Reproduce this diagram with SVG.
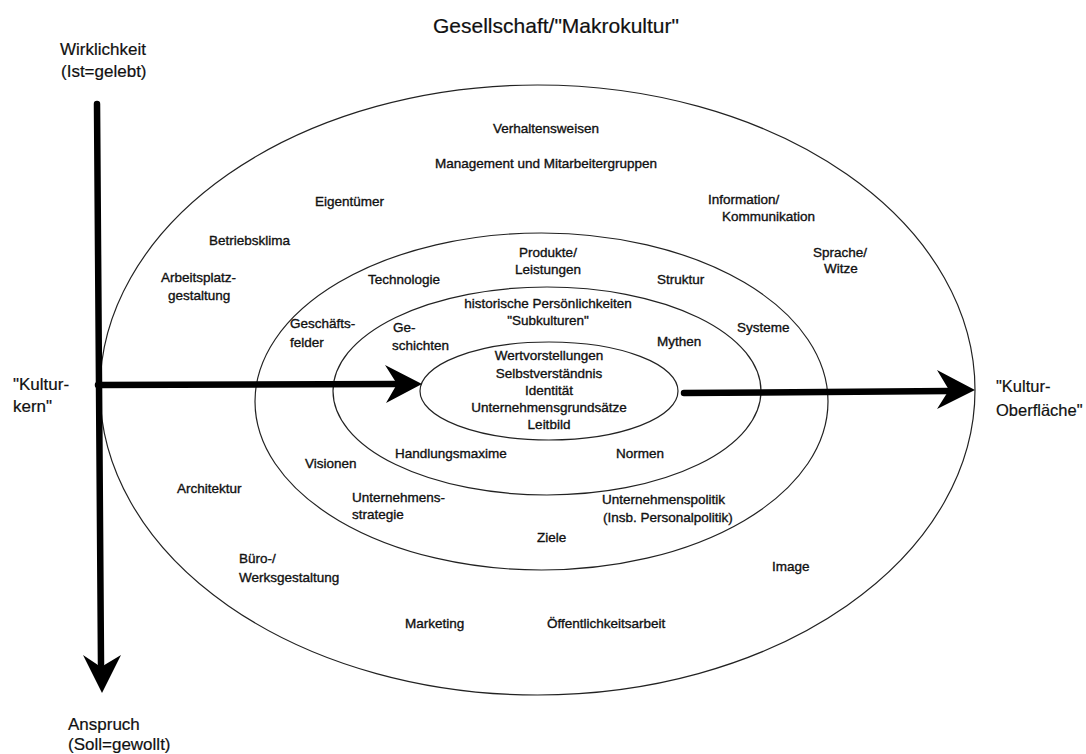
<svg xmlns="http://www.w3.org/2000/svg" width="1086" height="754" viewBox="0 0 1086 754">
<style>
.ring{fill:none;stroke:#222;stroke-width:1.2}
.t{font-family:"Liberation Sans",Arial,sans-serif;font-size:13.5px;fill:#111;stroke:#111;stroke-width:0.35}
.c{text-anchor:middle}
.big{font-family:"Liberation Sans",Arial,sans-serif;font-size:17px;fill:#111;stroke:#111;stroke-width:0.2}
.title{font-family:"Liberation Sans",Arial,sans-serif;font-size:21px;fill:#111;stroke:#111;stroke-width:0.2}
.shaft{stroke:#000;stroke-width:6.5;stroke-linecap:round;fill:none}
.head{fill:#000}
</style>
<rect width="1086" height="754" fill="#fff"/>
<g id="rings">
<ellipse id="ring-outer" class="ring" cx="537.5" cy="390" rx="437.5" ry="305"/>
<ellipse id="ring-middle" class="ring" cx="541.5" cy="401.5" rx="286.5" ry="168.5"/>
<ellipse id="ring-third" class="ring" cx="547" cy="391" rx="214" ry="104"/>
<ellipse id="ring-core" class="ring" cx="549" cy="391" rx="129" ry="49"/>
</g>
<g id="connectors">
<line class="shaft" x1="97" y1="104" x2="101" y2="664"/>
<path class="head" d="M83,655 L102,693 L121,655 L101,667 Z"/>
<line class="shaft" x1="98" y1="385" x2="395" y2="384"/>
<path class="head" d="M385,365 L422,384 L386,403 L397,384 Z"/>
<line class="shaft" x1="684" y1="393" x2="950" y2="391"/>
<path class="head" d="M937,370 L975,390 L937,409 L949,390 Z"/>
</g>
<g id="title"><text class="title" x="433" y="33">Gesellschaft/"Makrokultur"</text></g>
<g id="wirklichkeit"><text class="big" x="60" y="55">Wirklichkeit</text><text class="big" x="61" y="77">(Ist=gelebt)</text></g>
<g id="anspruch"><text class="big" x="68" y="730">Anspruch</text><text class="big" x="68" y="750">(Soll=gewollt)</text></g>
<g id="kulturkern"><text class="big" x="13" y="390">"Kultur-</text><text class="big" x="13" y="412">kern"</text></g>
<g id="kulturoberflaeche"><text class="big" x="996" y="392" style="font-size:16.5px">"Kultur-</text><text class="big" x="996" y="416" style="font-size:16.5px">Oberfläche"</text></g>
<g id="verhaltensweisen"><text class="t c" x="546" y="133">Verhaltensweisen</text></g>
<g id="management"><text class="t c" x="546" y="168">Management und Mitarbeitergruppen</text></g>
<g id="eigentuemer"><text class="t" x="315" y="206">Eigentümer</text></g>
<g id="information"><text class="t" x="708" y="204">Information/</text><text class="t" x="722" y="221">Kommunikation</text></g>
<g id="betriebsklima"><text class="t" x="209" y="245">Betriebsklima</text></g>
<g id="sprache"><text class="t" x="813" y="257">Sprache/</text><text class="t" x="824" y="273">Witze</text></g>
<g id="arbeitsplatz"><text class="t" x="161" y="282">Arbeitsplatz-</text><text class="t" x="168" y="300">gestaltung</text></g>
<g id="produkte"><text class="t c" x="548" y="257">Produkte/</text><text class="t c" x="548" y="274">Leistungen</text></g>
<g id="technologie"><text class="t" x="368" y="284">Technologie</text></g>
<g id="struktur"><text class="t" x="657" y="284">Struktur</text></g>
<g id="historische"><text class="t c" x="548" y="308">historische Persönlichkeiten</text><text class="t c" x="548" y="325">"Subkulturen"</text></g>
<g id="geschaeftsfelder"><text class="t" x="290" y="328">Geschäfts-</text><text class="t" x="290" y="347">felder</text></g>
<g id="geschichten"><text class="t" x="393" y="332">Ge-</text><text class="t" x="392" y="350">schichten</text></g>
<g id="systeme"><text class="t" x="737" y="332">Systeme</text></g>
<g id="mythen"><text class="t" x="657" y="346">Mythen</text></g>
<g id="kern"><text class="t c" x="549" y="360">Wertvorstellungen</text><text class="t c" x="549" y="378">Selbstverständnis</text><text class="t c" x="549" y="395">Identität</text><text class="t c" x="549" y="412">Unternehmensgrundsätze</text><text class="t c" x="549" y="429">Leitbild</text></g>
<g id="handlungsmaxime"><text class="t" x="395" y="458">Handlungsmaxime</text></g>
<g id="normen"><text class="t" x="616" y="458">Normen</text></g>
<g id="visionen"><text class="t" x="305" y="468">Visionen</text></g>
<g id="architektur"><text class="t" x="177" y="493">Architektur</text></g>
<g id="strategie"><text class="t" x="352" y="502">Unternehmens-</text><text class="t" x="352" y="519">strategie</text></g>
<g id="politik"><text class="t" x="602" y="504">Unternehmenspolitik</text><text class="t" x="603" y="522">(Insb. Personalpolitik)</text></g>
<g id="ziele"><text class="t" x="537" y="542">Ziele</text></g>
<g id="buero"><text class="t" x="239" y="563">Büro-/</text><text class="t" x="239" y="582">Werksgestaltung</text></g>
<g id="image"><text class="t" x="772" y="571">Image</text></g>
<g id="marketing"><text class="t" x="405" y="628">Marketing</text></g>
<g id="oeffentlichkeit"><text class="t" x="547" y="628">Öffentlichkeitsarbeit</text></g>
</svg>
